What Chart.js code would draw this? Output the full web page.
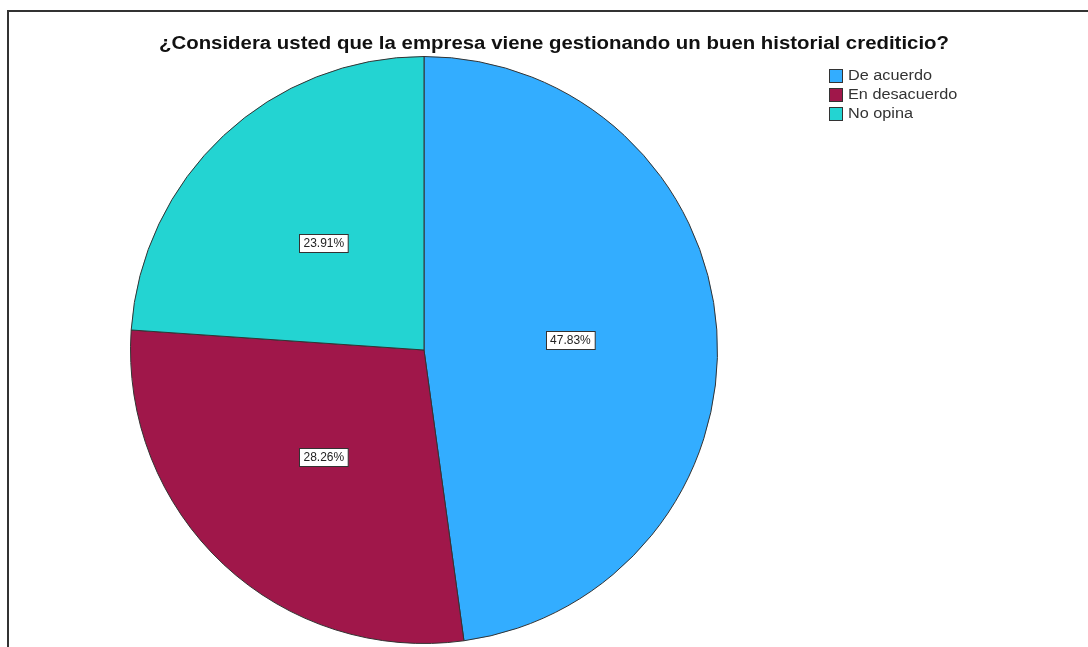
<!DOCTYPE html>
<html>
<head>
<meta charset="utf-8">
<script src="https://cdn.jsdelivr.net/npm/chart.js@4.4.0/dist/chart.umd.min.js"></script>
<style>
  html, body { margin: 0; padding: 0; background: #fff; }
  #wrap { position: relative; width: 1088px; height: 647px; }
  #frame {
    position: absolute; left: 7px; top: 10px; right: -10px; bottom: -10px;
    border-left: 2px solid #333; border-top: 2px solid #333;
  }
  canvas { position: absolute; left: 0; top: 0; }
</style>
</head>
<body>
<div id="wrap">
  <div id="frame"></div>
  <canvas id="pieChart" width="1088" height="647"></canvas>
</div>
<script>
// Encuesta: respuestas (n = 46)
const titleText = '¿Considera usted que la empresa viene gestionando un buen historial crediticio?';
const categories = ['De acuerdo', 'En desacuerdo', 'No opina'];
const counts = [22, 13, 11];
const colors = ['#33ADFF', '#A0174A', '#23D4D2'];

const total = counts.reduce((a, b) => a + b, 0);

// text drawn a little wider than the font, like the original export
function wideText(ctx, txt, x, y, sx) {
    ctx.save();
    ctx.translate(x, y);
    ctx.scale(sx, 1);
    ctx.fillText(txt, 0, 0);
    ctx.restore();
}

// title, legend and percentage boxes
const decorPlugin = {
    id: 'decor',
    afterDraw(chart) {
        const ctx = chart.ctx;
        ctx.save();

        // title
        ctx.font = 'bold 18px "Liberation Sans", Arial, sans-serif';
        ctx.fillStyle = '#111';
        ctx.textAlign = 'center';
        ctx.textBaseline = 'alphabetic';
        const tw = ctx.measureText(titleText).width;
        wideText(ctx, titleText, 554, 49, 790 / tw);

        // legend
        ctx.font = '14px "Liberation Sans", Arial, sans-serif';
        ctx.textAlign = 'left';
        ctx.textBaseline = 'middle';
        chart.data.labels.forEach((lab, i) => {
            const y = 69 + i * 19;
            ctx.fillStyle = chart.data.datasets[0].backgroundColor[i];
            ctx.fillRect(829, y, 14, 14);
            ctx.strokeStyle = '#333';
            ctx.lineWidth = 1;
            ctx.strokeRect(829.5, y + 0.5, 13, 13);
            ctx.fillStyle = '#333';
            wideText(ctx, lab, 848, y + 7.5, 1.16);
        });

        // percentage labels
        const meta = chart.getDatasetMeta(0);
        ctx.font = '12px "Liberation Sans", Arial, sans-serif';
        ctx.textAlign = 'center';
        meta.data.forEach((arc, i) => {
            const p = arc.getProps(['x', 'y', 'startAngle', 'endAngle', 'outerRadius'], true);
            const mid = (p.startAngle + p.endAngle) / 2;
            const r = p.outerRadius * 0.5;
            const cx = p.x + Math.cos(mid) * r;
            const cy = p.y + Math.sin(mid) * r;
            const txt = (counts[i] / total * 100).toFixed(2) + '%';
            const w = ctx.measureText(txt).width + 8;
            const h = 18;
            const bx = Math.round(cx - w / 2) + 0.5;
            const by = Math.round(cy - h / 2) + 0.5;
            ctx.fillStyle = '#fff';
            ctx.fillRect(bx, by, w, h);
            ctx.strokeStyle = '#333';
            ctx.lineWidth = 1;
            ctx.strokeRect(bx, by, w, h);
            ctx.fillStyle = '#222';
            ctx.fillText(txt, cx, by + h / 2 + 0.5);
        });

        ctx.restore();
    }
};

new Chart(document.getElementById('pieChart'), {
    type: 'pie',
    data: {
        labels: categories,
        datasets: [{
            data: counts,
            backgroundColor: colors,
            borderColor: '#333',
            borderWidth: 1
        }]
    },
    options: {
        responsive: false,
        animation: false,
        layout: {
            padding: { left: 130, right: 370, top: 56, bottom: 3 }
        },
        plugins: {
            legend: { display: false },
            title: { display: false },
            tooltip: { enabled: false }
        }
    },
    plugins: [decorPlugin]
});
</script>
</body>
</html>
